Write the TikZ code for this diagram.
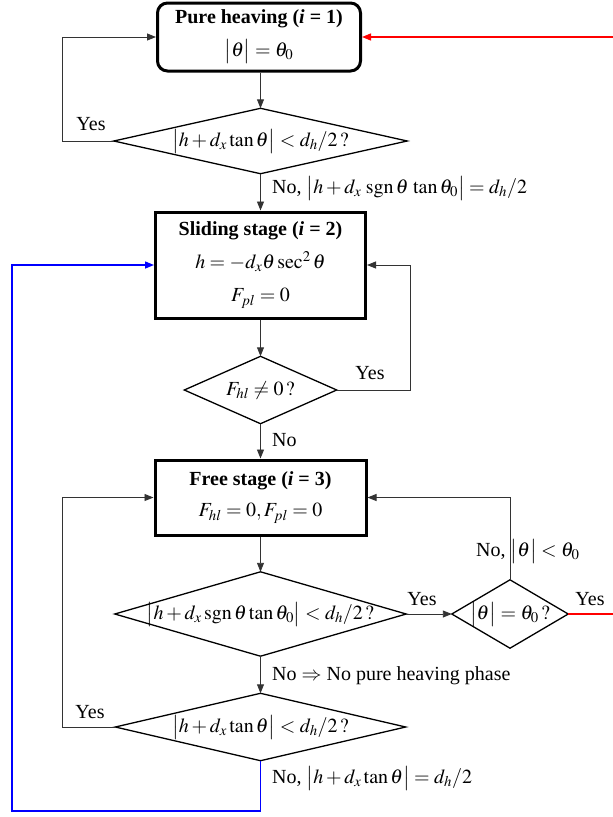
\documentclass[tikz,border=0pt]{standalone}
\usepackage{mathptmx}
\usepackage{fontspec}
\setmainfont{Liberation Serif}
\usetikzlibrary{arrows.meta}

\tikzset{
  stagebox/.style={draw, line width=3pt, align=center, inner sep=0pt},
  testarea/.style={inner sep=0pt, align=center},
  testline/.style={line width=1.3pt, line join=miter},
  plainline/.style={draw=black!80, line width=0.9pt},
  flow/.style={plainline, -{Triangle[length=9pt,width=7pt]}},
  blueflow/.style={draw={rgb,255:red,0;green,0;blue,255}, line width=1.4pt, -{Triangle[length=9pt,width=7pt]}},
  redflow/.style={draw={rgb,255:red,255;green,0;blue,0}, line width=1.4pt, -{Triangle[length=9pt,width=7pt]}},
  tag/.style={inner sep=0pt}
}

\newcommand{\absv}[1]{\bigl|#1\bigr|}

\begin{document}
\begin{tikzpicture}[x=1pt, y=1pt, font=\fontsize{20}{33}\selectfont]
\useasboundingbox (0,0) rectangle (613,-817);

% turning columns of the loop-back lines
\coordinate (lx) at (62,0);
\coordinate (rx) at (410,0);
\coordinate (bx) at (12,-811);
\coordinate (redx) at (622,0);

% stages
\node[stagebox, rounded corners=10pt, minimum width=203, minimum height=68] (b1) at (259,-37)
  {\textbf{Pure heaving (\textit{i} = 1)}\\ $\absv{\theta}=\theta_0$};
\node[stagebox, minimum width=210, minimum height=106] (b2) at (260.5,-265)
  {\textbf{Sliding stage (\textit{i} = 2)}\\ $h=-d_x\theta\sec^2\theta$\\ $F_{pl}=0$};
\node[stagebox, minimum width=211, minimum height=75] (b3) at (260.5,-497.5)
  {\textbf{Free stage (\textit{i} = 3)}\\[-2pt] $F_{hl}=0, F_{pl}=0$};

% decisions
\node[testarea, minimum width=293, minimum height=65] (d1) at (260.5,-141)
  {$\absv{h+d_x\tan\theta}<d_h/2\,?$};
\node[testarea, minimum width=152, minimum height=67] (d2) at (260.5,-390)
  {$F_{hl}\neq 0\,?$};
\node[testarea, minimum width=291, minimum height=84] (d3) at (260.5,-614)
  {$\absv{h+d_x\,\mathrm{sgn}\,\theta\tan\theta_0}<d_h/2\,?$};
\node[testarea, minimum width=290, minimum height=67] (d4) at (260.5,-727)
  {$\absv{h+d_x\tan\theta}<d_h/2\,?$};
\node[testarea, minimum width=116, minimum height=68] (d5) at (510,-614)
  {$\absv{\theta}=\theta_0\,?$};

\foreach \d in {d1,d2,d3,d4,d5}
  \draw[testline] (\d.north) -- (\d.east) -- (\d.south) -- (\d.west) -- cycle;

% main flow
\draw[flow] (b1.south -| d1.north) -- (d1.north);
\draw[flow] (d1.south) -- (b2.north);
\draw[flow] (b2.south) -- (d2.north);
\draw[flow] (d2.south) -- (b3.north);
\draw[flow] (b3.south) -- (d3.north);
\draw[flow] (d3.south) -- (d4.north);
\draw[flow] (d3.east) -- (d5.west);

% loops
\draw[flow] (d1.west) -- (d1.west -| lx) |- (b1.west);
\draw[flow] (d2.east) -- (d2.east -| rx) |- (b2.east);
\draw[flow] (d4.west) -- (d4.west -| lx) |- (b3.west);
\draw[flow] (d5.north) |- (b3.east);
\draw[blueflow] (d4.south) |- (bx) |- (b2.west);
\draw[redflow] (d5.east) -- (d5.east -| redx) |- (b1.east);

% branch labels
\node[tag] (y1) at (91,-124) {Yes};
\node[tag, anchor=west] (n1) at (272,-188)
  {No, $\absv{h+d_x\;\mathrm{sgn}\,\theta\,\tan\theta_0}=d_h/2$};
\node[tag] (y2) at (370,-373) {Yes};
\node[tag, anchor=west] (n2) at (272,-440) {No};
\node[tag] (y3) at (422,-599) {Yes};
\node[tag] (y5) at (590,-599) {Yes};
\node[tag, anchor=west] (n5) at (476,-551) {No, $\absv{\theta}<\theta_0$};
\node[tag, anchor=west] (n3) at (272,-676) {No $\Rightarrow$ No pure heaving phase};
\node[tag] (y4) at (90,-712) {Yes};
\node[tag, anchor=west] (n4) at (272,-778) {No, $\absv{h+d_x\tan\theta}=d_h/2$};
\end{tikzpicture}
\end{document}
